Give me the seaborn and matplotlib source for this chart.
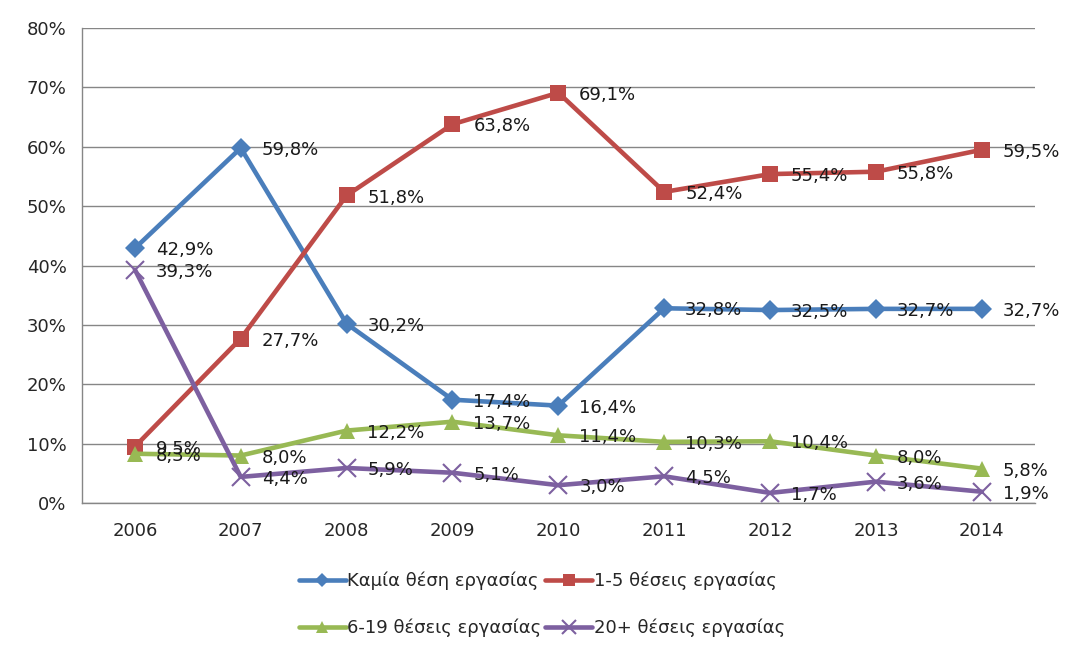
import numpy as np
import pandas as pd
import matplotlib
matplotlib.use("Agg")
import matplotlib.pyplot as plt
import seaborn as sns
from matplotlib.ticker import FuncFormatter, FixedLocator

years = [2006, 2007, 2008, 2009, 2010, 2011, 2012, 2013, 2014]
none_jobs = [42.9, 59.8, 30.2, 17.4, 16.4, 32.8, 32.5, 32.7, 32.7]
jobs_1_5 = [9.5, 27.7, 51.8, 63.8, 69.1, 52.4, 55.4, 55.8, 59.5]
jobs_6_19 = [8.3, 8.0, 12.2, 13.7, 11.4, 10.3, 10.4, 8.0, 5.8]
jobs_20p = [39.3, 4.4, 5.9, 5.1, 3.0, 4.5, 1.7, 3.6, 1.9]

series_names = ["Καμία θέση εργασίας", "1-5 θέσεις εργασίας",
                "6-19 θέσεις εργασίας", "20+ θέσεις εργασίας"]
series_vals = [none_jobs, jobs_1_5, jobs_6_19, jobs_20p]
colors = ["#4A7EBB", "#BE4B48", "#98B954", "#7D60A0"]
markers = ["D", "s", "^", "x"]
msizes = [10, 12, 12, 13]

sns.set_style("white")
plt.rcParams["font.family"] = ["DejaVu Sans"]

fig = plt.figure(figsize=(10.84, 6.52), dpi=100)
ax = fig.add_axes([0.0756, 0.2285, 0.879, 0.7285])

handles = []
for name, vals, c, m, ms in zip(series_names, series_vals, colors, markers, msizes):
    d = pd.DataFrame({"year": years, "value": np.array(vals) / 100})
    mew = 1.5 if m == "x" else 0
    sns.lineplot(data=d, x="year", y="value", color=c, marker=m,
                 markersize=ms, markeredgewidth=mew, markeredgecolor=c,
                 linewidth=3.3, ax=ax, label=name, legend=False)
    h, = ax.plot([], [], color=c, marker=m, markersize=ms * 0.75,
                 markeredgewidth=mew, markeredgecolor=c, linewidth=3.3,
                 label=name)
    handles.append(h)

for name, vals, c in zip(series_names, series_vals, colors):
    for y, v in zip(years, vals):
        ax.annotate(f"{v:.1f}%".replace(".", ","), (y, v / 100),
                    xytext=(15, -1.5), textcoords="offset points",
                    ha="left", va="center", fontsize=13, color="#1a1a1a")

ax.set_xlim(2005.5, 2014.5)
ax.set_ylim(0, 0.8)
ax.set_yticks(np.arange(0, 0.81, 0.1))
ax.yaxis.set_major_formatter(FuncFormatter(lambda v, p: f"{v*100:.0f}%"))
ax.set_xticks(years)
ax.xaxis.set_minor_locator(FixedLocator(np.arange(2005.5, 2015, 1)))
ax.tick_params(axis="x", which="major", length=0, pad=14, labelsize=13)
ax.tick_params(axis="x", which="minor", length=6, color="#868686", width=1)
ax.tick_params(axis="y", length=6, color="#868686", labelsize=13, pad=5)
ax.grid(axis="y", color="#868686", linewidth=1)
ax.set_axisbelow(True)
ax.set_xlabel("")
ax.set_ylabel("")
for s in ["top", "right"]:
    ax.spines[s].set_visible(False)
for s in ["left", "bottom"]:
    ax.spines[s].set_color("#868686")
    ax.spines[s].set_linewidth(1)

# legend: two rows, filled column-wise -> reorder
order = [0, 2, 1, 3]
fig.legend(handles=[handles[i] for i in order], loc="center",
           bbox_to_anchor=(0.5, 0.073), ncol=2, frameon=False, fontsize=13,
           handlelength=2.6, columnspacing=0.2, labelspacing=1.55,
           handletextpad=0.1)

fig.savefig("out.png", dpi=100)
